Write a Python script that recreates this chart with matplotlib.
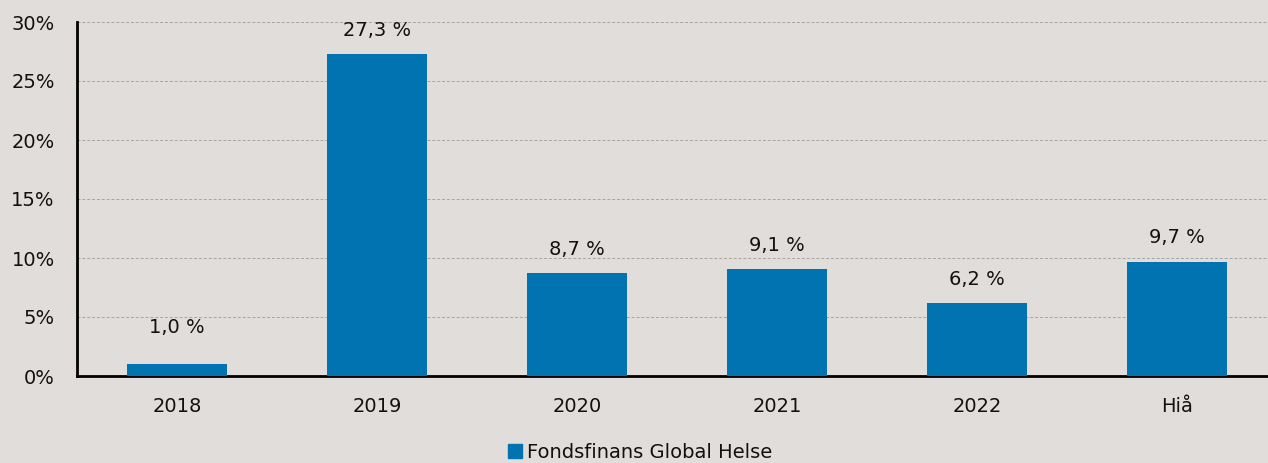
import matplotlib
matplotlib.use("Agg")
import matplotlib.pyplot as plt
from matplotlib.patches import Patch

# data
categories = ["2018", "2019", "2020", "2021", "2022", "Hiå"]
values = [1.0, 27.3, 8.7, 9.1, 6.2, 9.7]
series_name = "Fondsfinans Global Helse"

bg = "#E0DDDA"
bar_color = "#0073B0"

plt.rcParams["font.family"] = ["DejaVu Sans"]

fig = plt.figure(figsize=(12.68, 4.63), dpi=100, facecolor=bg)
ax = fig.add_axes([77 / 1268, 1 - 376 / 463, 1 - 77 / 1268, (376 - 22) / 463])
ax.set_facecolor(bg)

x = list(range(len(categories)))
ax.bar(x, values, width=0.5, color=bar_color, zorder=3)

# value labels sit ~2 points above the bar, never lower than ~4.15
for xi, v in zip(x, values):
    ax.text(xi, max(v + 2.0, 4.15), f"{v:.1f} %".replace(".", ","), ha="center",
            va="center", fontsize=14, color="#111111")

ax.set_xlim(-0.5, 5.455)
ax.set_ylim(0, 30)
ax.set_yticks(range(0, 31, 5))
ax.set_yticklabels([f"{t}%" for t in range(0, 31, 5)], fontsize=14, color="#111111")
ax.set_xticks(x)
ax.set_xticklabels(categories, fontsize=14, color="#111111")
ax.tick_params(axis="both", length=0)
ax.tick_params(axis="x", pad=15)
ax.tick_params(axis="y", pad=16)

ax.yaxis.grid(True, linestyle=(0, (3, 2)), color="#a8a4a0", linewidth=0.7, zorder=0)
for s in ["top", "right"]:
    ax.spines[s].set_visible(False)
ax.spines["left"].set_linewidth(2)
ax.spines["bottom"].set_linewidth(2)

handle = Patch(color=bar_color, label=series_name)
fig.legend(handles=[handle], loc="center", bbox_to_anchor=(0.505, 1 - 452 / 463),
           frameon=False, fontsize=14, handlelength=0.7, handleheight=0.7,
           handletextpad=0.3, labelcolor="#111111")

fig.savefig("out.png", dpi=100, facecolor=bg)
